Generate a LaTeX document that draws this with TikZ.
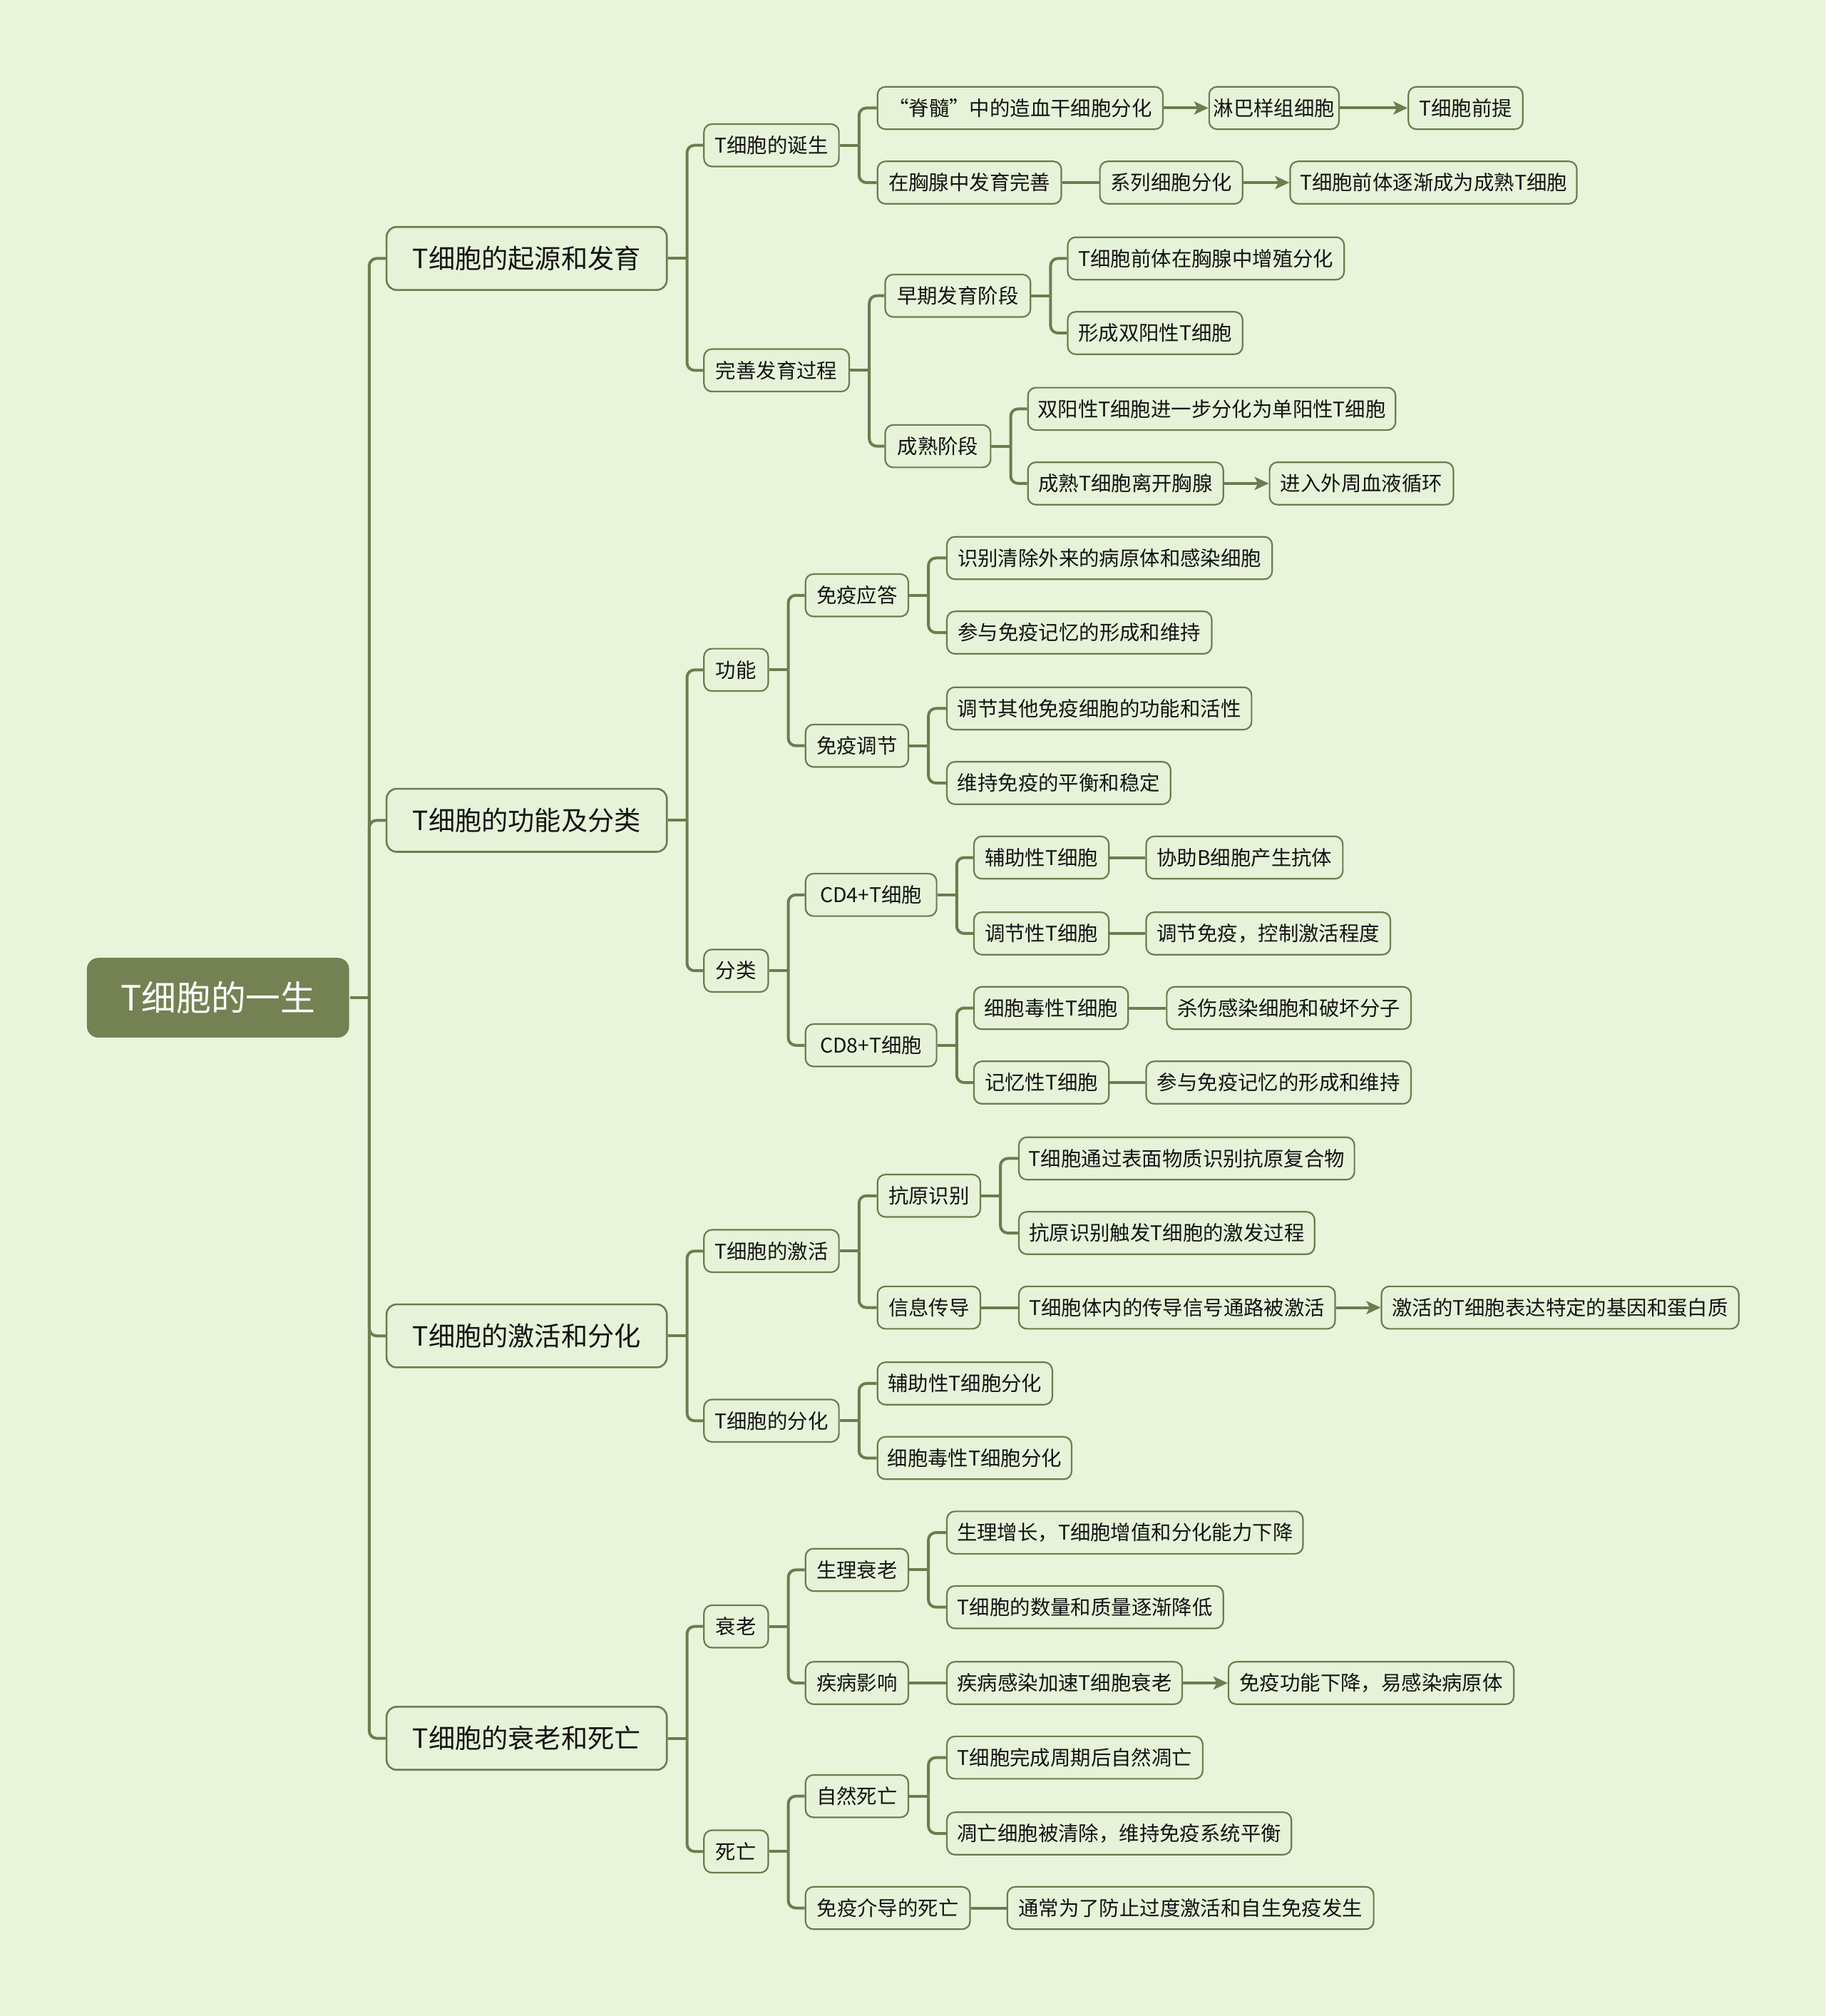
\documentclass[tikz,border=0pt]{standalone}
\usepackage{fontspec}
\newfontfamily\cjk{Noto Sans CJK SC}
\usetikzlibrary{arrows.meta}
\definecolor{bgc}{HTML}{E8F5DB}
\definecolor{nf}{HTML}{E6F3D8}
\definecolor{lc}{HTML}{6E7C4E}
\definecolor{rootc}{HTML}{748153}
\definecolor{tc}{HTML}{141414}
\tikzset{
  box/.style={draw=lc, line width=0.55pt, fill=nf, rounded corners=2.8pt, anchor=west,
    inner sep=0pt, minimum height=33*0.4507pt, text=tc,
    font=\cjk\fontsize{7.1pt}{8pt}\selectfont},
  bw/.style={minimum width=#1*0.4507pt},
  lone/.style={box, minimum height=49*0.4507pt, rounded corners=3.5pt, line width=0.65pt,
    font=\cjk\fontsize{9.3pt}{10pt}\selectfont},
  rootbox/.style={box, draw=none, fill=rootc, text=white, minimum height=62*0.4507pt,
    rounded corners=4pt, font=\cjk\fontsize{12.2pt}{13pt}\selectfont},
  conn/.style={draw=lc, line width=1pt, rounded corners=2.6pt},
  arr/.style={draw=lc, line width=1pt, -{Stealth[length=5pt,width=4.6pt,inset=1.2pt]}},
}
\newcommand\branch[2]{%
  \draw[conn] (#1.east) -- ++(15,0) coordinate (tmpc);
  \foreach \c in {#2} {\draw[conn] (tmpc) |- (\c.west);}
}
\begin{document}
\begin{tikzpicture}[x=0.4507pt, y=-0.4507pt]
\fill[bgc] (0,0) rectangle (1420,1568);
\useasboundingbox (0,0) rectangle (1420,1568);

% root
\node[rootbox, bw=204] (R) at (67,776) {T细胞的一生};

% level 1
\node[lone, bw=218] (A) at (300,201) {T细胞的起源和发育};
\node[lone, bw=218] (B) at (300,638) {T细胞的功能及分类};
\node[lone, bw=218] (C) at (300,1039) {T细胞的激活和分化};
\node[lone, bw=218] (D) at (300,1352) {T细胞的衰老和死亡};

% level 2
\node[box, bw=105] (A1) at (547,113) {T细胞的诞生};
\node[box, bw=113] (A2) at (547,288) {完善发育过程};
\node[box, bw=50] (B1) at (547,521) {功能};
\node[box, bw=50] (B2) at (547,755) {分类};
\node[box, bw=105] (C1) at (547,973) {T细胞的激活};
\node[box, bw=105] (C2) at (547,1105) {T细胞的分化};
\node[box, bw=50] (D1) at (547,1265) {衰老};
\node[box, bw=50] (D2) at (547,1440) {死亡};

% A
\node[box, bw=222] (A1a) at (682,84) {“脊髓”中的造血干细胞分化};
\node[box, bw=101] (A1a2) at (940,84) {淋巴样组细胞};
\node[box, bw=89] (A1a3) at (1095,84) {T细胞前提};
\node[box, bw=143] (A1b) at (682,142) {在胸腺中发育完善};
\node[box, bw=111] (A1b2) at (855,142) {系列细胞分化};
\node[box, bw=223] (A1b3) at (1003,142) {T细胞前体逐渐成为成熟T细胞};
\node[box, bw=113] (A2a) at (688,230) {早期发育阶段};
\node[box, bw=82] (A2b) at (688,347) {成熟阶段};
\node[box, bw=215] (A2a1) at (830,201) {T细胞前体在胸腺中增殖分化};
\node[box, bw=136] (A2a2) at (830,259) {形成双阳性T细胞};
\node[box, bw=286] (A2b1) at (799,318) {双阳性T细胞进一步分化为单阳性T细胞};
\node[box, bw=152] (A2b2) at (799,376) {成熟T细胞离开胸腺};
\node[box, bw=143] (A2b3) at (987,376) {进入外周血液循环};

% B
\node[box, bw=80] (B1a) at (626,463) {免疫应答};
\node[box, bw=80] (B1b) at (626,580) {免疫调节};
\node[box, bw=253] (B1a1) at (736,434) {识别清除外来的病原体和感染细胞};
\node[box, bw=206] (B1a2) at (736,492) {参与免疫记忆的形成和维持};
\node[box, bw=237] (B1b1) at (736,551) {调节其他免疫细胞的功能和活性};
\node[box, bw=174] (B1b2) at (736,609) {维持免疫的平衡和稳定};
\node[box, bw=102] (B2a) at (626,696) {CD4+T细胞};
\node[box, bw=102] (B2b) at (626,813) {CD8+T细胞};
\node[box, bw=105] (B2a1) at (757,667) {辅助性T细胞};
\node[box, bw=153] (B2a1x) at (891,667) {协助B细胞产生抗体};
\node[box, bw=105] (B2a2) at (757,726) {调节性T细胞};
\node[box, bw=190] (B2a2x) at (891,726) {调节免疫，控制激活程度};
\node[box, bw=120] (B2b1) at (757,784) {细胞毒性T细胞};
\node[box, bw=190] (B2b1x) at (907,784) {杀伤感染细胞和破坏分子};
\node[box, bw=105] (B2b2) at (757,842) {记忆性T细胞};
\node[box, bw=206] (B2b2x) at (891,842) {参与免疫记忆的形成和维持};

% C
\node[box, bw=80] (C1a) at (682,930) {抗原识别};
\node[box, bw=80] (C1b) at (682,1017) {信息传导};
\node[box, bw=261] (C1a1) at (792,901) {T细胞通过表面物质识别抗原复合物};
\node[box, bw=230] (C1a2) at (792,959) {抗原识别触发T细胞的激发过程};
\node[box, bw=246] (C1b1) at (792,1017) {T细胞体内的传导信号通路被激活};
\node[box, bw=278] (C1b2) at (1074,1017) {激活的T细胞表达特定的基因和蛋白质};
\node[box, bw=136] (C2a) at (682,1076) {辅助性T细胞分化};
\node[box, bw=151] (C2b) at (682,1134) {细胞毒性T细胞分化};

% D
\node[box, bw=80] (D1a) at (626,1221) {生理衰老};
\node[box, bw=80] (D1b) at (626,1309) {疾病影响};
\node[box, bw=277] (D1a1) at (736,1192) {生理增长，T细胞增值和分化能力下降};
\node[box, bw=215] (D1a2) at (736,1250) {T细胞的数量和质量逐渐降低};
\node[box, bw=183] (D1b1) at (736,1309) {疾病感染加速T细胞衰老};
\node[box, bw=222] (D1b2) at (955,1309) {免疫功能下降，易感染病原体};
\node[box, bw=80] (D2a) at (626,1397) {自然死亡};
\node[box, bw=128] (D2b) at (626,1484) {免疫介导的死亡};
\node[box, bw=199] (D2a1) at (736,1367) {T细胞完成周期后自然凋亡};
\node[box, bw=268] (D2a2) at (736,1426) {凋亡细胞被清除，维持免疫系统平衡};
\node[box, bw=285] (D2b1) at (783,1484) {通常为了防止过度激活和自生免疫发生};

% tree connectors
\branch{R}{A,B,C,D}
\branch{A}{A1,A2}
\branch{B}{B1,B2}
\branch{C}{C1,C2}
\branch{D}{D1,D2}
\branch{A1}{A1a,A1b}
\branch{A2}{A2a,A2b}
\branch{A2a}{A2a1,A2a2}
\branch{A2b}{A2b1,A2b2}
\branch{B1}{B1a,B1b}
\branch{B1a}{B1a1,B1a2}
\branch{B1b}{B1b1,B1b2}
\branch{B2}{B2a,B2b}
\branch{B2a}{B2a1,B2a2}
\branch{B2b}{B2b1,B2b2}
\branch{C1}{C1a,C1b}
\branch{C1a}{C1a1,C1a2}
\branch{C2}{C2a,C2b}
\branch{D1}{D1a,D1b}
\branch{D1a}{D1a1,D1a2}
\branch{D2}{D2a,D2b}
\branch{D2a}{D2a1,D2a2}

% plain links
\draw[conn] (A1b.east) -- (A1b2.west);
\draw[conn] (B2a1.east) -- (B2a1x.west);
\draw[conn] (B2a2.east) -- (B2a2x.west);
\draw[conn] (B2b1.east) -- (B2b1x.west);
\draw[conn] (B2b2.east) -- (B2b2x.west);
\draw[conn] (C1b.east) -- (C1b1.west);
\draw[conn] (D1b.east) -- (D1b1.west);
\draw[conn] (D2b.east) -- (D2b1.west);

% arrows
\draw[arr] (A1a.east) -- (A1a2.west);
\draw[arr] (A1a2.east) -- (A1a3.west);
\draw[arr] (A1b2.east) -- (A1b3.west);
\draw[arr] (A2b2.east) -- (A2b3.west);
\draw[arr] (C1b1.east) -- (C1b2.west);
\draw[arr] (D1b1.east) -- (D1b2.west);
\end{tikzpicture}
\end{document}
